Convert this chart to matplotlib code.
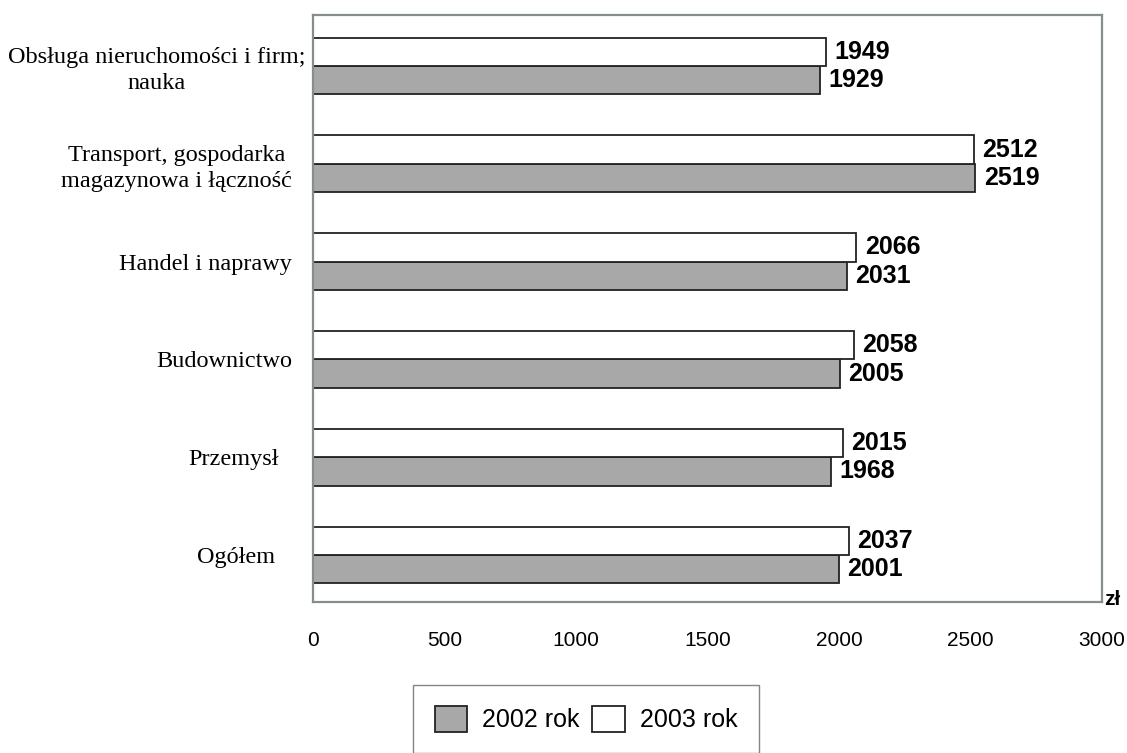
import matplotlib
matplotlib.use('Agg')
import matplotlib.pyplot as plt
import matplotlib.transforms as mtransforms
import numpy as np

categories = ['Ogółem', 'Przemysł', 'Budownictwo', 'Handel i naprawy',
              'Transport, gospodarka\nmagazynowa i łączność',
              'Obsługa nieruchomości i firm;\nnauka']
rok_2002 = [2001, 1968, 2005, 2031, 2519, 1929]
rok_2003 = [2037, 2015, 2058, 2066, 2512, 1949]
xticks = [0, 500, 1000, 1500, 2000, 2500, 3000]

fig = plt.figure(figsize=(11.27, 7.53), dpi=100)
ax = fig.add_axes([0.2777, 0.2005, 0.7001, 0.7795])

y = np.arange(len(categories))
h = 0.29
b02 = ax.barh(y - h / 2, rok_2002, height=h, color='#a8a8a8', edgecolor='#222222',
              linewidth=1.3, label='2002 rok')
b03 = ax.barh(y + h / 2, rok_2003, height=h, color='white', edgecolor='#222222',
              linewidth=1.3, label='2003 rok')

for bars, vals in ((b02, rok_2002), (b03, rok_2003)):
    for bar, v in zip(bars, vals):
        ax.annotate(str(v), (v, bar.get_y() + bar.get_height() / 2),
                    xytext=(6, 0), textcoords='offset points', va='center', ha='left',
                    fontsize=18, fontweight='heavy', family='Liberation Sans')

ax.set_xlim(0, 3000)
ax.set_ylim(-0.48, 5.52)
ax.set_xticks(xticks)
ax.set_xticklabels([str(t) for t in xticks], family='Liberation Sans', fontsize=15)
ax.set_yticks(y)
ax.set_yticklabels(categories, family='Liberation Serif', fontsize=17.5,
                   multialignment='center', linespacing=1.3)
ax.tick_params(axis='x', length=0, pad=21)
ax.tick_params(axis='y', length=0, pad=15)

# small horizontal shifts of category labels (pixels)
shifts = [-17, -13, 0, 0, 0, 13]
for lab, dx in zip(ax.get_yticklabels(), shifts):
    lab.set_transform(lab.get_transform() +
                      mtransforms.ScaledTranslation(dx / 100, 0, fig.dpi_scale_trans))

for s in ax.spines.values():
    s.set_color('#868d8d')
    s.set_linewidth(1.6)

ax.text(1.003, -0.012, 'zł', transform=ax.transAxes, ha='left', va='bottom',
        fontsize=15, fontweight='heavy', family='Liberation Sans')

leg = fig.legend(handles=[b02, b03], loc='center', bbox_to_anchor=(0.52, 0.045),
                 ncol=2, frameon=True, fancybox=False, edgecolor='#666666',
                 prop={'family': 'Liberation Sans', 'size': 18},
                 handlelength=1.3, handleheight=1.2, handletextpad=0.6,
                 columnspacing=0.5, borderpad=0.85, borderaxespad=0)
leg.get_frame().set_linewidth(1.0)

fig.savefig('out.png', dpi=100)
